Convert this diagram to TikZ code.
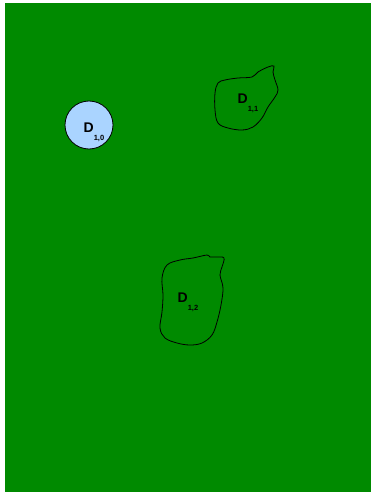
\documentclass[tikz,border=0pt]{standalone}
\usepackage{fontspec}
\setmainfont{Liberation Sans}
\definecolor{bggreen}{RGB}{0,138,0}
\definecolor{lblue}{RGB}{170,212,255}
\tikzset{
  region/.style={draw=black, line width=0.8pt},
  lbl/.style={inner sep=0pt, anchor=base west, font=\fontsize{14}{15}\selectfont\bfseries},
}
\newcommand{\dsub}[1]{D\raisebox{-8.5pt}{\fontsize{7.5}{8}\selectfont #1}}
\begin{document}
\begin{tikzpicture}[x=1pt,y=-1pt]
\useasboundingbox (0,0) rectangle (371,492);
\fill[bggreen] (4.5,3) rectangle (371,492);
\node[region, circle, fill=lblue, minimum size=48pt, inner sep=0pt] (d10) at (89,125) {};
\node[lbl] (t10) at (83.5,132) {\dsub{1,0}};
\draw[region] plot[smooth cycle, tension=0.6] coordinates {
 (218,83) (225,80) (238,78) (252,77) (258,72) (268,67) (274,66) (273,72) (275,80) (278,90) (275,97)
 (268,107) (262,118) (253,127) (242,130) (228,128) (218,123) (215,110) (215,93)};
\node[lbl] (t11) at (237.5,103) {\dsub{1,1}};
\draw[region] plot[smooth cycle, tension=0.6] coordinates {
 (167,265) (180,260) (193,258) (207,255) (210,257) (217,257) (224,258) (222,267) (220,275) (223,288)
 (221,305) (217,322) (212,335) (202,343) (190,345) (177,343) (165,338) (160,328) (162,312) (163,295) (162,278)};
\node[lbl] (t12) at (177.5,302) {\dsub{1,2}};
\end{tikzpicture}
\end{document}
